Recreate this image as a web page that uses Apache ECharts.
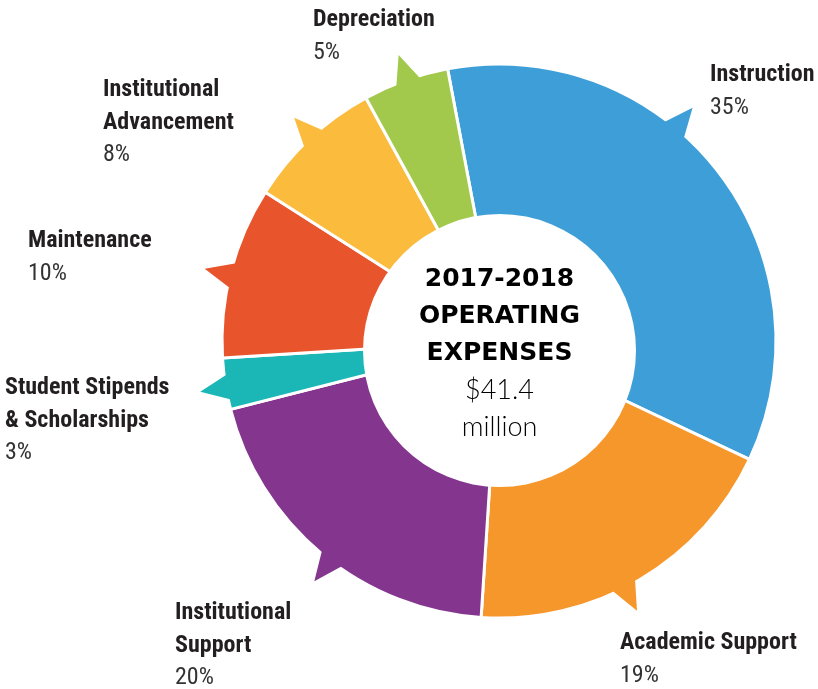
<!DOCTYPE html>
<html>
<head>
<meta charset="utf-8">
<script src="https://cdn.jsdelivr.net/npm/echarts@6/dist/echarts.min.js"></script>
<style>
html,body{margin:0;padding:0;background:#fff;}
#chart{width:818px;height:689px;}
</style>
</head>
<body>
<div id="chart"></div>
<script>
// ---- data ----
var categories = ['Instruction', 'Academic\u00a0Support', 'Institutional\nSupport', 'Student Stipends\n& Scholarships', 'Maintenance', 'Institutional\nAdvancement', 'Depreciation'];
var percentValues = [35, 19, 20, 3, 10, 8, 5];
var centerTitleLines = ['2017-2018', 'OPERATING', 'EXPENSES'];
var centerAmountLines = ['$41.4', 'million'];

// ---- styles / layout (not data) ----
var colors = ['#3e9fd8', '#f6972c', '#84368f', '#1ab7b6', '#e8542b', '#fbbb3d', '#a2c94b'];
var labelAnchors = [[710, 59], [620, 627], [175, 597], [5, 372], [28, 225], [103, 74], [313, 4]];
var pointerFraction = [0.40, 0.55, 0.47, 0.43, 0.48, 0.52, 0.52];
var labelFont = '"Roboto Condensed", "Liberation Sans Narrow", "Arial Narrow", "DejaVu Sans Condensed", sans-serif';

var cum = [];
(function(){ var s = 0; for (var i = 0; i < percentValues.length; i++) { cum.push(s); s += percentValues[i]; } })();

var chart = echarts.init(document.getElementById('chart'));
var CX = 499, CY = 341, START = 100.7;

var option = {
  animation: false,
  polar: { center: [CX, CY], radius: 275.5 },
  angleAxis: { type: 'value', min: 0, max: 100, startAngle: START, clockwise: true, show: false },
  radiusAxis: { type: 'value', min: 0, max: 1, show: false },
  series: [
    {
      type: 'pie',
      center: [CX, CY],
      radius: [100, 277],
      startAngle: START,
      clockwise: true,
      avoidLabelOverlap: false,
      silent: true,
      z: 2,
      itemStyle: { borderColor: '#ffffff', borderWidth: 3 },
      emphasis: { disabled: true },
      labelLine: { show: false },
      label: {
        show: true,
        position: 'outside',
        formatter: function (p) {
          var lines = p.name.split('\n').map(function (s) { return '{n|' + s + '}'; });
          return lines.join('\n') + '\n{p|' + p.value + '%}';
        },
        rich: {
          n: { fontFamily: labelFont, fontWeight: 'bold', fontSize: 24, color: '#231f20', lineHeight: 32.5 },
          p: { fontFamily: labelFont, fontWeight: 'normal', fontSize: 24, color: '#333333', lineHeight: 32.5 }
        }
      },
      labelLayout: function (params) {
        var a = labelAnchors[params.dataIndex];
        return { x: a[0], y: a[1], align: 'left', verticalAlign: 'top', draggable: false };
      },
      data: categories.map(function (n, i) {
        return { name: n, value: percentValues[i], itemStyle: { color: colors[i] } };
      })
    },
    {
      type: 'custom',
      coordinateSystem: 'polar',
      silent: true,
      z: 3,
      data: percentValues.map(function (v, i) { return [1, cum[i] + v / 2]; }),
      renderItem: function (params, api) {
        var i = params.dataIndex;
        var c = cum[i] + percentValues[i] * pointerFraction[i];
        var hw = 0.82;
        var p1 = api.coord([0.985, c - hw]);
        var p2 = api.coord([0.985, c + hw]);
        var tip = api.coord([1.1, c]);
        return {
          type: 'polygon',
          shape: { points: [p1, tip, p2] },
          style: { fill: colors[i], stroke: null }
        };
      }
    }
  ],
  graphic: [
    {
      type: 'circle',
      z: 100,
      silent: true,
      shape: { cx: 499.5, cy: 350.5, r: 136.5 },
      style: { fill: '#ffffff' }
    },
    {
      type: 'text',
      z: 101,
      silent: true,
      x: 499.5,
      y: 353,
      style: {
        text: centerTitleLines.map(function (s) { return '{b|' + s + '}'; }).join('\n') + '\n' +
              centerAmountLines.map(function (s) { return '{l|' + s + '}'; }).join('\n'),
        align: 'center',
        verticalAlign: 'middle',
        textAlign: 'center',
        textVerticalAlign: 'middle',
        rich: {
          b: { fontFamily: '"DejaVu Sans", sans-serif', fontWeight: 'bold', fontSize: 25, color: '#231f20', lineHeight: 37, align: 'center' },
          l: { fontFamily: 'Lato, "Open Sans", sans-serif', fontWeight: 300, fontSize: 27, color: '#1a1718', lineHeight: 37, align: 'center' }
        }
      }
    }
  ]
};
chart.setOption(option);
</script>
</body>
</html>
